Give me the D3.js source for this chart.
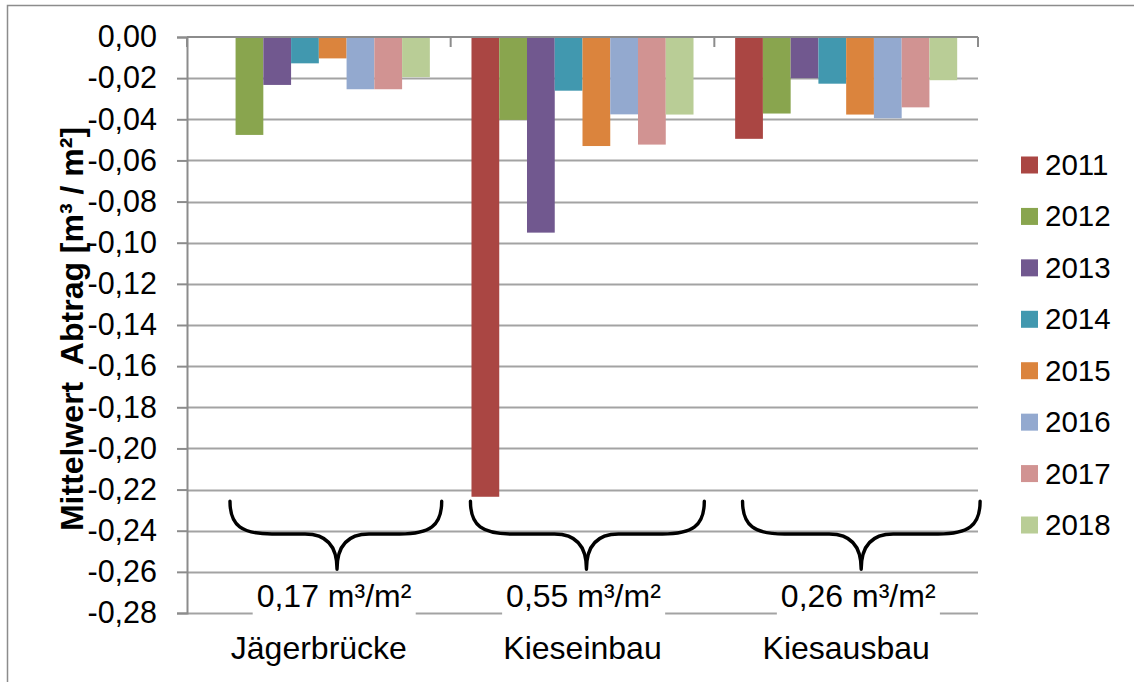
<!DOCTYPE html>
<html>
<head>
<meta charset="utf-8">
<script src="https://cdn.jsdelivr.net/npm/d3@7"></script>
<style>
  html, body { margin: 0; padding: 0; background: #fff; }
  svg { display: block; font-family: "Liberation Sans", Arial, sans-serif; }
</style>
</head>
<body>
<svg id="chart" width="1134" height="682"></svg>
<script>
// ---- data ----
const categories = ["Jägerbrücke", "Kieseinbau", "Kiesausbau"];
const years = ["2011", "2012", "2013", "2014", "2015", "2016", "2017", "2018"];
const colors = ["#AA4643", "#89A54E", "#71588F", "#4198AF", "#DB843D", "#93A9CF", "#D19392", "#B9CD96"];
// values per year, one entry per category
const v2011 = [0, -0.2235, -0.0495];
const v2012 = [-0.0476, -0.0403, -0.0372];
const v2013 = [-0.0233, -0.0951, -0.0200];
const v2014 = [-0.0128, -0.0261, -0.0227];
const v2015 = [-0.0104, -0.0530, -0.0377];
const v2016 = [-0.0254, -0.0376, -0.0395];
const v2017 = [-0.0254, -0.0523, -0.0342];
const v2018 = [-0.0195, -0.0377, -0.0210];
const seriesValues = [v2011, v2012, v2013, v2014, v2015, v2016, v2017, v2018];
const yTicks = [0, -0.02, -0.04, -0.06, -0.08, -0.10, -0.12, -0.14, -0.16, -0.18, -0.20, -0.22, -0.24, -0.26, -0.28];
const braceLabels = ["0,17 m³/m²", "0,55 m³/m²", "0,26 m³/m²"];
// brace extents as fractions of each category band: [start, tip, end]
const braceSpan = [[0.163, 0.569, 0.966], [0.075, 0.515, 0.962], [0.107, 0.557, 1.008]];
const yTitle = "Mittelwert  Abtrag [m³ / m²]";

// ---- layout ----
const svg = d3.select("#chart");
const pLeft = 187, pRight = 978, pTop = 37, pBottom = 613;

// chart border (left and top visible)
svg.append("rect").attr("x", 7.5).attr("y", 5.5).attr("width", 1140).attr("height", 700)
  .attr("fill", "none").attr("stroke", "#8c8c8c").attr("stroke-width", 1.5);

const x0 = d3.scaleBand().domain(categories).range([pLeft, pRight]).padding(0);
const x1 = d3.scaleBand().domain(years).range([0, x0.bandwidth()]).paddingInner(0).paddingOuter(0.75);
const y = d3.scaleLinear().domain([-0.28, 0]).range([pBottom, pTop]);

const fmt = v => (v === 0 ? "0,00" : d3.format(".2f")(v).replace(".", ",").replace("−", "-"));

// gridlines
svg.append("g").selectAll("line").data(yTicks.filter(t => t !== 0)).join("line")
  .attr("x1", pLeft).attr("x2", pRight)
  .attr("y1", d => Math.round(y(d)) + 0.5).attr("y2", d => Math.round(y(d)) + 0.5)
  .attr("stroke", "#a3a3a3").attr("stroke-width", 2);

// y axis
const yAxis = d3.axisLeft(y).tickValues(yTicks).tickSize(10).tickPadding(20).tickFormat(fmt);
const gy = svg.append("g").attr("transform", `translate(${pLeft},0)`).call(yAxis);
gy.select(".domain").attr("stroke", "#8c8c8c").attr("stroke-width", 2);
gy.selectAll(".tick line").attr("stroke", "#8c8c8c").attr("stroke-width", 2);
gy.selectAll(".tick text").attr("font-size", 30.5).attr("fill", "#000")
  .attr("font-family", "Liberation Sans, Arial, sans-serif");

// bars
const groups = svg.append("g").selectAll("g").data(categories).join("g")
  .attr("transform", d => `translate(${x0(d)},0)`);
groups.selectAll("rect").data((c, ci) => years.map((yr, si) => ({ yr, si, v: seriesValues[si][ci] })))
  .join("rect")
  .attr("x", d => x1(d.yr))
  .attr("width", x1.bandwidth())
  .attr("y", y(0))
  .attr("height", d => y(d.v) - y(0))
  .attr("fill", d => colors[d.si]);

// top x axis (at value 0) with category boundary ticks pointing down
const xAxisG = svg.append("g");
xAxisG.append("line").attr("x1", pLeft).attr("x2", pRight).attr("y1", y(0)).attr("y2", y(0))
  .attr("stroke", "#8c8c8c").attr("stroke-width", 2);
const boundaries = categories.map(c => x0(c)).concat([x0(categories[categories.length - 1]) + x0.bandwidth()]);
xAxisG.selectAll("line.tk").data(boundaries).join("line").attr("class", "tk")
  .attr("x1", d => d).attr("x2", d => d).attr("y1", y(0)).attr("y2", y(0) + 10)
  .attr("stroke", "#8c8c8c").attr("stroke-width", 2);

// category labels
svg.append("g").selectAll("text").data(categories).join("text")
  .attr("x", d => x0(d) + x0.bandwidth() / 2)
  .attr("y", 659)
  .attr("text-anchor", "middle").attr("font-size", 32).attr("fill", "#000")
  .text(d => d);

// braces
const yBTop = y(-0.2257), yBMid = y(-0.2416), yBTip = y(-0.2587);
const bw = x0.bandwidth();
const braceG = svg.append("g");
categories.forEach((c, i) => {
  const a = x0(c) + braceSpan[i][0] * bw;
  const m = x0(c) + braceSpan[i][1] * bw;
  const b = x0(c) + braceSpan[i][2] * bw;
  const p = d3.path();
  p.moveTo(a, yBTop);
  p.bezierCurveTo(a, yBMid - 8, a + 12, yBMid, a + 42, yBMid);
  p.lineTo(m - 32, yBMid);
  p.bezierCurveTo(m - 12, yBMid, m, yBMid + 10, m, yBTip);
  p.moveTo(m, yBTip);
  p.bezierCurveTo(m, yBMid + 10, m + 12, yBMid, m + 32, yBMid);
  p.lineTo(b - 42, yBMid);
  p.bezierCurveTo(b - 12, yBMid, b, yBMid - 8, b, yBTop);
  braceG.append("path").attr("d", p.toString()).attr("fill", "none")
    .attr("stroke", "#000").attr("stroke-width", 3.4).attr("stroke-linecap", "round");

  // label with white box
  const lab = braceG.append("g");
  const tx = lab.append("text").attr("x", m - 3).attr("y", 607)
    .attr("text-anchor", "middle").attr("font-size", 32).attr("fill", "#000").text(braceLabels[i]);
  const bb = tx.node().getBBox();
  lab.insert("rect", "text").attr("x", bb.x - 4).attr("y", 577).attr("width", bb.width + 8).attr("height", 44)
    .attr("fill", "#fff");
});

// y axis title
svg.append("text").attr("transform", `translate(83,329) rotate(-90)`)
  .attr("text-anchor", "middle").attr("font-size", 32).attr("font-weight", "bold").attr("fill", "#000")
  .style("white-space", "pre")
  .text(yTitle);

// legend
const lg = svg.append("g").selectAll("g").data(years).join("g")
  .attr("transform", (d, i) => `translate(1021,${165 + i * 51.43})`);
lg.append("rect").attr("x", 0).attr("y", -8.5).attr("width", 17).attr("height", 17)
  .attr("fill", (d, i) => colors[i]);
lg.append("text").attr("x", 24).attr("y", 10).attr("font-size", 29.5).attr("fill", "#000").text(d => d);
</script>
</body>
</html>
